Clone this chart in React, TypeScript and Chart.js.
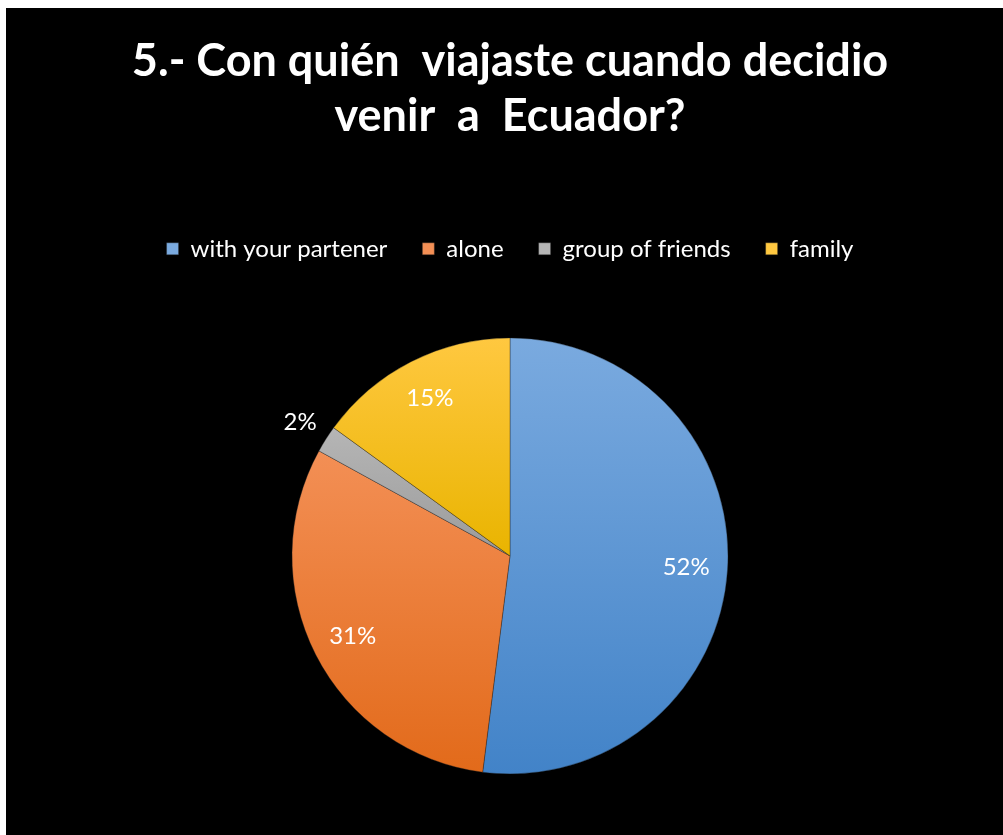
import React, { useEffect, useRef } from 'react';
import { Chart, registerables } from 'chart.js';

Chart.register(...registerables);

const titleLines = ['5.- Con quién  viajaste cuando decidio', 'venir  a  Ecuador?'];
const categories = ['with your partener', 'alone', 'group of friends', 'family'];
const values = [52, 31, 2, 15];
const labelTexts = ['52%', '31%', '2%', '15%'];

// gradient colour stops per slice, offsets relative to the pie's vertical diameter
const sliceStops: [number, string][][] = [
  [[0, '#7aaadf'], [1, '#4283c8']],
  [[0.26, '#f38f55'], [1, '#e26a1a']],
  [[0.2, '#b6b6b6'], [0.5, '#9b9b9b']],
  [[0, '#ffc840'], [0.5, '#e9b400']],
];
const solidColors = ['#5b9bd5', '#ed7d31', '#a5a5a5', '#ffc000'];

const PIE_RADIUS = 218;
const LEGEND_GAP = 6;

const legendSpacer = {
  id: 'legendSpacer',
  beforeLayout(chart: any) {
    const lg = chart.legend;
    if (lg && !lg._spaced) {
      const orig = lg.fit.bind(lg);
      lg.fit = function () {
        orig();
        this.height += LEGEND_GAP;
      };
      lg._spaced = true;
    }
  },
};

const sliceLabels = {
  id: 'sliceLabels',
  afterDatasetsDraw(chart: any) {
    const ctx = chart.ctx;
    const meta = chart.getDatasetMeta(0);
    ctx.save();
    ctx.fillStyle = '#ffffff';
    ctx.font = '24px Lato';
    ctx.textAlign = 'center';
    ctx.textBaseline = 'middle';
    meta.data.forEach((arc: any, i: number) => {
      const p = arc.getProps(['x', 'y', 'startAngle', 'endAngle', 'outerRadius'], true);
      const mid = (p.startAngle + p.endAngle) / 2;
      const small = values[i] < 5;
      const r = p.outerRadius * (small ? 1.14 : 0.81);
      ctx.fillText(labelTexts[i], p.x + Math.cos(mid) * r, p.y + Math.sin(mid) * r);
    });
    ctx.restore();
  },
};

export default function App() {
  const canvasRef = useRef<HTMLCanvasElement>(null);

  useEffect(() => {
    if (!canvasRef.current) return;
    const chart = new Chart(canvasRef.current, {
      type: 'pie',
      data: {
        labels: categories,
        datasets: [
          {
            data: values,
            backgroundColor: (c: any) => {
              const ch = c.chart;
              const area = ch.chartArea;
              const i = c.dataIndex;
              if (!area || i === undefined) return solidColors[i ?? 0];
              const cy = (area.top + area.bottom) / 2;
              const g = ch.ctx.createLinearGradient(0, cy - PIE_RADIUS, 0, cy + PIE_RADIUS);
              sliceStops[i].forEach(([o, col]) => g.addColorStop(o, col));
              return g;
            },
            borderColor: 'rgba(30,30,30,0.6)',
            borderWidth: 0.6,
            radius: PIE_RADIUS,
          } as any,
        ],
      },
      options: {
        animation: false,
        responsive: true,
        maintainAspectRatio: false,
        layout: { padding: { left: 11, bottom: 0, top: 0, right: 0 } },
        plugins: {
          title: {
            display: true,
            text: titleLines,
            color: '#ffffff',
            font: { family: 'Lato', weight: 'bold', size: 45, lineHeight: 1.22 },
            padding: { top: 26, bottom: 58 },
          },
          legend: {
            display: true,
            position: 'top',
            labels: {
              color: '#ffffff',
              boxWidth: 12,
              boxHeight: 12,
              padding: 35,
              font: { family: 'Lato', size: 24 },
            },
          },
          tooltip: { enabled: false },
        },
      },
      plugins: [legendSpacer, sliceLabels],
    });
    return () => chart.destroy();
  }, []);

  return (
    <div
      style={{
        position: 'absolute',
        left: 6,
        top: 8,
        width: 997,
        height: 827,
        background: '#000000',
      }}
    >
      <canvas ref={canvasRef} />
    </div>
  );
}
